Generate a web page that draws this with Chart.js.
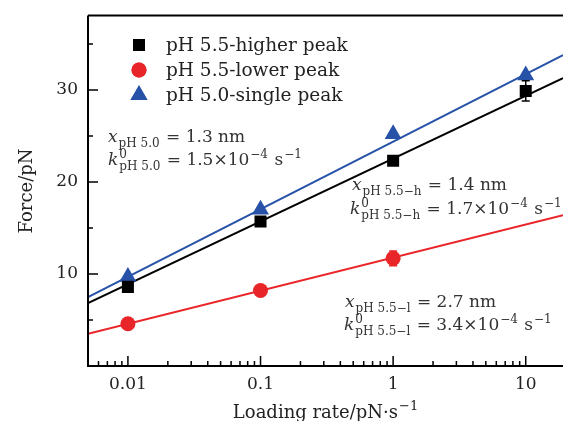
<!DOCTYPE html>
<html><head><meta charset="utf-8">
<script src="https://cdn.jsdelivr.net/npm/chart.js@4/dist/chart.umd.min.js"></script>
<style>html,body{margin:0;padding:0;background:#fff;}#wrap{width:563px;height:421px;}</style>
</head><body><div id="wrap"><canvas id="c" width="563" height="421"></canvas></div>
<script>
const loadingRates = [0.01, 0.1, 1, 10];
const higherPeak = [8.6, 15.7, 22.3, 29.9];
const higherErr = [0.3, 0.3, 0.4, 1.1];
const lowerRates = [0.01, 0.1, 1];
const lowerPeak = [4.6, 8.2, 11.7];
const lowerErr = [0.2, 0.2, 0.8];
const singlePeak = [9.7, 17.0, 25.2, 31.6];
const fitRates = [0.005, 19.1];
const fitHigher = [6.85, 31.3];
const fitLower = [3.5, 16.4];
const fitSingle = [7.5, 33.8];
const xTickValues = [0.01, 0.1, 1, 10];
const xTickLabels = ['0.01', '0.1', '1', '10'];
const yTickValues = [10, 20, 30];
const yMinorTicks = [5, 15, 25, 35];
const legendLabels = ['pH 5.5-higher peak', 'pH 5.5-lower peak', 'pH 5.0-single peak'];

const BLACK = '#000000', RED = '#e8262a', BLUE = '#2752a8';
const SERIF = '"DejaVu Serif", serif';

const pts = (xs, ys) => xs.map((x, i) => ({x: x, y: ys[i]}));

const datasets = [
  {label: legendLabels[0], data: pts(loadingRates, higherPeak), pointStyle: 'rect', pointRadius: 8.5,
   backgroundColor: BLACK, borderColor: BLACK, borderWidth: 0, showLine: false, err: higherErr},
  {label: legendLabels[1], data: pts(lowerRates, lowerPeak), pointStyle: 'circle', pointRadius: 7.5,
   backgroundColor: RED, borderColor: RED, borderWidth: 0, showLine: false, err: lowerErr},
  {label: legendLabels[2], data: pts(loadingRates, singlePeak), pointStyle: 'triangle', pointRadius: 9.8,
   backgroundColor: BLUE, borderColor: BLUE, borderWidth: 0, showLine: false},
  {label: 'fit higher', data: pts(fitRates, fitHigher), showLine: true, pointRadius: 0, borderColor: BLACK, borderWidth: 2},
  {label: 'fit lower', data: pts(fitRates, fitLower), showLine: true, pointRadius: 0, borderColor: RED, borderWidth: 2},
  {label: 'fit single', data: pts(fitRates, fitSingle), showLine: true, pointRadius: 0, borderColor: BLUE, borderWidth: 2}
];

function mathLine(ctx, x, y, parts, B) {
  const S = Math.round(B * 0.72);
  let cx = x;
  ctx.textBaseline = 'alphabetic';
  ctx.textAlign = 'left';
  for (const p of parts) {
    if (p.t !== undefined) {
      ctx.font = (p.i ? 'italic ' : '') + B + 'px ' + SERIF;
      ctx.fillText(p.t, cx, y);
      cx += ctx.measureText(p.t).width;
    } else {
      let w = 0;
      ctx.font = S + 'px ' + SERIF;
      if (p.sup) { ctx.fillText(p.sup, cx + 1, y - B * 0.42); w = Math.max(w, ctx.measureText(p.sup).width + 1); }
      if (p.sub) { ctx.fillText(p.sub, cx + 1, y + B * 0.28); w = Math.max(w, ctx.measureText(p.sub).width + 1); }
      cx += w + 1;
    }
  }
  return cx;
}

const decor = {
  id: 'decor',
  afterDatasetsDraw(chart) {
    const ctx = chart.ctx, xs = chart.scales.x, ys = chart.scales.y;
    chart.data.datasets.forEach((ds) => {
      if (!ds.err) return;
      ctx.save();
      ctx.strokeStyle = ds.borderColor; ctx.lineWidth = 1.5;
      ds.data.forEach((p, i) => {
        const px = xs.getPixelForValue(p.x);
        const y1 = ys.getPixelForValue(p.y - ds.err[i]);
        const y2 = ys.getPixelForValue(p.y + ds.err[i]);
        ctx.beginPath();
        ctx.moveTo(px, y1); ctx.lineTo(px, y2);
        ctx.moveTo(px - 4, y1); ctx.lineTo(px + 4, y1);
        ctx.moveTo(px - 4, y2); ctx.lineTo(px + 4, y2);
        ctx.stroke();
      });
      ctx.restore();
    });
  },
  afterDraw(chart) {
    const ctx = chart.ctx, xs = chart.scales.x, ys = chart.scales.y, a = chart.chartArea;
    ctx.save();
    ctx.strokeStyle = '#000'; ctx.lineWidth = 2;
    ctx.beginPath();
    ctx.moveTo(a.left, a.top); ctx.lineTo(a.left, a.bottom); ctx.lineTo(a.right, a.bottom);
    ctx.moveTo(a.left, a.top); ctx.lineTo(a.right, a.top);
    ctx.stroke();
    ctx.lineWidth = 1.5;
    ctx.beginPath();
    yTickValues.forEach(v => { const py = ys.getPixelForValue(v); ctx.moveTo(a.left, py); ctx.lineTo(a.left + 10, py); });
    yMinorTicks.forEach(v => { const py = ys.getPixelForValue(v); ctx.moveTo(a.left, py); ctx.lineTo(a.left + 5, py); });
    for (let e = -3; e <= 1; e++) {
      for (let m = 1; m <= 9; m++) {
        const v = m * Math.pow(10, e);
        if (v < xs.min || v > xs.max) continue;
        const px = xs.getPixelForValue(v);
        ctx.moveTo(px, a.bottom); ctx.lineTo(px, a.bottom - (m === 1 ? 10 : 5));
      }
    }
    ctx.stroke();

    const legendY = [45, 70, 95];
    chart.data.datasets.slice(0, 3).forEach((ds, i) => {
      ctx.fillStyle = ds.backgroundColor;
      Chart.helpers.drawPoint(ctx, {pointStyle: ds.pointStyle, radius: ds.pointRadius, borderWidth: 0}, 139, legendY[i]);
      ctx.fill();
      ctx.fillStyle = '#222';
      ctx.font = '18.5px ' + SERIF;
      ctx.textAlign = 'left'; ctx.textBaseline = 'middle';
      ctx.fillText(ds.label, 166, legendY[i] + 1);
    });

    ctx.fillStyle = '#333';
    const B = 17;
    mathLine(ctx, 108, 142, [{t: 'x', i: 1}, {sub: 'pH 5.0'}, {t: ' = 1.3 nm'}], B);
    mathLine(ctx, 108, 165, [{t: 'k', i: 1}, {sup: '0', sub: 'pH 5.0'}, {t: ' = 1.5×10'}, {sup: '−4'}, {t: ' s'}, {sup: '−1'}], B);
    mathLine(ctx, 352, 190, [{t: 'x', i: 1}, {sub: 'pH 5.5−h'}, {t: ' = 1.4 nm'}], B);
    mathLine(ctx, 350, 214, [{t: 'k', i: 1}, {sup: '0', sub: 'pH 5.5−h'}, {t: ' = 1.7×10'}, {sup: '−4'}, {t: ' s'}, {sup: '−1'}], B);
    mathLine(ctx, 345, 307, [{t: 'x', i: 1}, {sub: 'pH 5.5−l'}, {t: ' = 2.7 nm'}], B);
    mathLine(ctx, 344, 330, [{t: 'k', i: 1}, {sup: '0', sub: 'pH 5.5−l'}, {t: ' = 3.4×10'}, {sup: '−4'}, {t: ' s'}, {sup: '−1'}], B);

    ctx.fillStyle = '#222';
    ctx.save();
    ctx.translate(32, 191); ctx.rotate(-Math.PI / 2);
    ctx.font = '18px ' + SERIF; ctx.textAlign = 'center'; ctx.textBaseline = 'alphabetic';
    ctx.fillText('Force/pN', 0, 0);
    ctx.restore();
    ctx.font = '18px ' + SERIF;
    const main = 'Loading rate/pN·s';
    const w1 = ctx.measureText(main).width;
    ctx.font = '13px ' + SERIF;
    const w2 = ctx.measureText('−1').width;
    const sx = (a.left + a.right) / 2 - (w1 + w2 + 1) / 2;
    mathLine(ctx, sx, 418, [{t: main}, {sup: '−1'}], 18);
    ctx.restore();
  }
};

new Chart(document.getElementById('c'), {
  type: 'scatter',
  data: {datasets: datasets},
  options: {
    responsive: false, animation: false, devicePixelRatio: 1,
    layout: {autoPadding: false, padding: {top: 15.5, right: 0, left: 0, bottom: 0}},
    plugins: {legend: {display: false}, tooltip: {enabled: false}},
    scales: {
      x: {
        type: 'logarithmic', min: 0.005, max: 19.1,
        grid: {display: false, drawTicks: false}, border: {display: false},
        afterBuildTicks: s => { s.ticks = xTickValues.map(v => ({value: v})); },
        afterFit: s => { s.height = 55; s.paddingLeft = 0; s.paddingRight = 0; },
        ticks: {padding: 8, color: '#222', font: {family: SERIF, size: 17},
          callback: (v) => { const i = xTickValues.indexOf(v); return i >= 0 ? xTickLabels[i] : ''; }}
      },
      y: {
        type: 'linear', min: 0, max: 38.1,
        grid: {display: false, drawTicks: false}, border: {display: false},
        afterBuildTicks: s => { s.ticks = yTickValues.map(v => ({value: v})); },
        afterFit: s => { s.width = 88; s.paddingTop = 0; s.paddingBottom = 0; },
        ticks: {padding: 10, color: '#222', font: {family: SERIF, size: 17}}
      }
    }
  },
  plugins: [decor]
});
</script>
</body></html>
